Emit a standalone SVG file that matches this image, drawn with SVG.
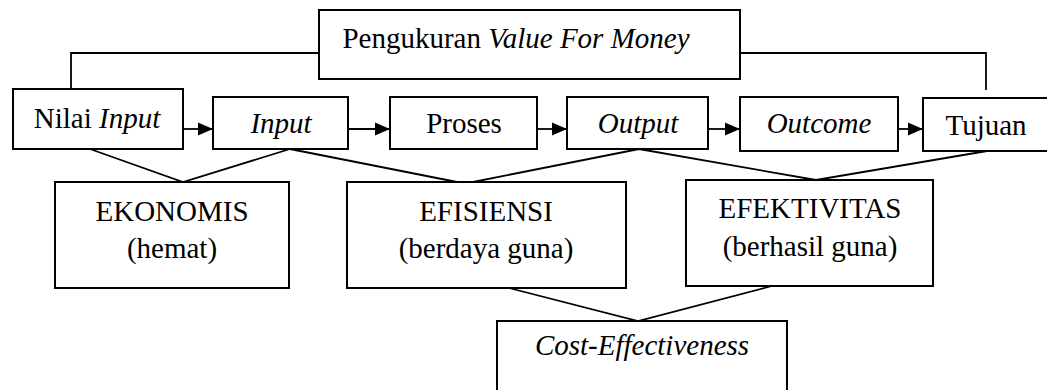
<svg xmlns="http://www.w3.org/2000/svg" width="1047" height="390" viewBox="0 0 1047 390">
<style>
.box{fill:#fff;stroke:#000;stroke-width:2}
.ln{fill:none;stroke:#000;stroke-width:1.8}
text{font-family:"Liberation Serif","Times New Roman",serif;font-size:29px;fill:#000;text-anchor:middle}
.it{font-style:italic}
</style>
<defs>
<marker id="ah" markerWidth="16" markerHeight="14" refX="15" refY="7" orient="auto" markerUnits="userSpaceOnUse">
<path d="M0,0.5 L15,7 L0,13.5 Z" fill="#000"/>
</marker>
</defs>
<g id="connectors">
<polyline class="ln" points="319,53 71,53 71,89"/>
<polyline class="ln" points="740,53 986,53 986,90"/>
<line class="ln" x1="183" y1="129" x2="213" y2="129" marker-end="url(#ah)"/>
<line class="ln" x1="348" y1="129" x2="390" y2="129" marker-end="url(#ah)"/>
<line class="ln" x1="537" y1="129" x2="567" y2="129" marker-end="url(#ah)"/>
<line class="ln" x1="708" y1="129" x2="740" y2="129" marker-end="url(#ah)"/>
<line class="ln" x1="898" y1="129" x2="923" y2="129" marker-end="url(#ah)"/>
<polyline class="ln" points="90,149 183,182 290,149"/>
<polyline class="ln" points="290,149 457,182"/>
<polyline class="ln" points="473,182 639,149 816,180 987,151"/>
<polyline class="ln" points="509,288 638,321 772,286"/>
</g>
<g id="pengukuran">
<rect class="box" x="319" y="10" width="421" height="69"/>
<text x="516" y="48">Pengukuran <tspan class="it">Value For Money</tspan></text>
</g>
<g id="nilai-input">
<rect class="box" x="13" y="89" width="170" height="60"/>
<text x="97" y="128">Nilai <tspan class="it">Input</tspan></text>
</g>
<g id="input">
<rect class="box" x="213" y="97" width="135" height="52"/>
<text class="it" x="281" y="133">Input</text>
</g>
<g id="proses">
<rect class="box" x="390" y="97" width="147" height="52"/>
<text x="464" y="133">Proses</text>
</g>
<g id="output">
<rect class="box" x="567" y="97" width="141" height="52"/>
<text class="it" x="638" y="133">Output</text>
</g>
<g id="outcome">
<rect class="box" x="740" y="97" width="158" height="54"/>
<text class="it" x="819" y="133">Outcome</text>
</g>
<g id="tujuan">
<rect class="box" x="923" y="98" width="130" height="53"/>
<text x="986" y="135">Tujuan</text>
</g>
<g id="ekonomis">
<rect class="box" x="55" y="182" width="234" height="106"/>
<text x="172" y="221">EKONOMIS</text>
<text x="172" y="258">(hemat)</text>
</g>
<g id="efisiensi">
<rect class="box" x="347" y="182" width="279" height="106"/>
<text x="486" y="221">EFISIENSI</text>
<text x="486" y="258">(berdaya guna)</text>
</g>
<g id="efektivitas">
<rect class="box" x="686" y="180" width="247" height="106"/>
<text x="810" y="218">EFEKTIVITAS</text>
<text x="810" y="256">(berhasil guna)</text>
</g>
<g id="cost-effectiveness">
<rect class="box" x="497" y="321" width="290" height="80"/>
<text class="it" x="642" y="355">Cost-Effectiveness</text>
</g>
</svg>
